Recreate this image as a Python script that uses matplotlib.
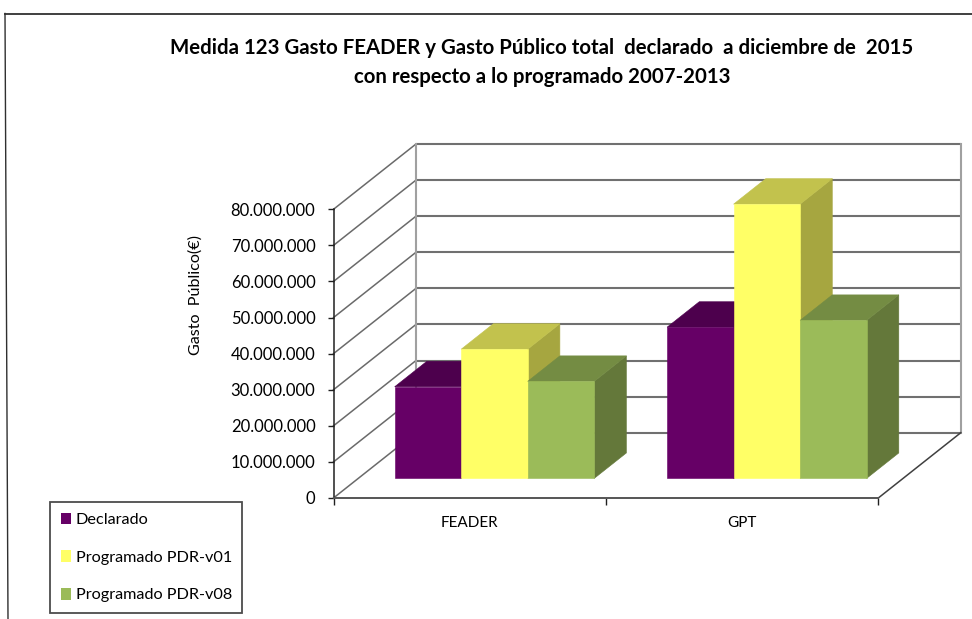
import matplotlib
matplotlib.use("Agg")
import matplotlib.pyplot as plt
from matplotlib.patches import Polygon, Patch
from matplotlib.lines import Line2D

categories = ["FEADER", "GPT"]
series_names = ["Declarado", "Programado PDR-v01", "Programado PDR-v08"]
declarado = [25400000, 41900000]
programado_v01 = [35800000, 76000000]
programado_v08 = [26900000, 43800000]
y_ticks = [0, 10000000, 20000000, 30000000, 40000000, 50000000, 60000000, 70000000, 80000000]
y_label = "Gasto  Público(€)"
title = ("Medida 123 Gasto FEADER y Gasto Público total  declarado  a diciembre de  2015\n"
         "con respecto a lo programado 2007-2013")

W, H = 972, 619
plt.rcParams["font.family"] = ["Lato", "DejaVu Sans"]
fig = plt.figure(figsize=(W / 100, H / 100), dpi=100, facecolor="white")

# front plane of the 3D box, in pixels
L, R, T, B = 333.5, 878.3, 209.3, 498.0
ax = fig.add_axes([L / W, 1 - B / H, (R - L) / W, (B - T) / H])
ax.set_xlim(0, 2)
ax.set_ylim(0, 80000000)
ax.patch.set_visible(False)

# depth vector: one unit of depth in data units
DX = 82.5 / ((R - L) / 2)
DY = 65.3 / ((B - T) / 80000000)


def prj(x, v, d=0.0):
    return (x + d * DX, v + d * DY)


GRID = "#707070"
# back wall, side wall
for v in y_ticks:
    ax.plot(*zip(prj(0, v, 1), prj(2, v, 1)), color=GRID, lw=1.5, zorder=1, clip_on=False,
            solid_capstyle="butt")
    ax.plot(*zip(prj(0, v, 0), prj(0, v, 1)), color="#6a6a6a", lw=1.1, zorder=1, clip_on=False)
for x in (0, 2):
    ax.plot(*zip(prj(x, 0, 1), prj(x, 80000000, 1)), color="#a0a0a0", lw=1.5, zorder=1, clip_on=False)
ax.plot(*zip(prj(2, 0, 0), prj(2, 0, 1)), color="#404040", lw=1.1, zorder=1, clip_on=False)

# bars
bar_w = 0.2442
d0, d1 = 0.30, 0.69
series = [declarado, programado_v01, programado_v08]
front = ["#660066", "#FFFF66", "#9BBB59"]
topc = ["#4D004D", "#C2C24D", "#748C43"]
sidec = ["#4D004D", "#A6A640", "#64783A"]
z = 3
for c in range(len(categories)):
    for s, vals in enumerate(series):
        v = vals[c]
        x0 = c + 0.5 + (s - 1.5) * bar_w
        x1 = x0 + bar_w
        faces = [
            ([prj(x1, 0, d0), prj(x1, 0, d1), prj(x1, v, d1), prj(x1, v, d0)], sidec[s]),
            ([prj(x0, v, d0), prj(x1, v, d0), prj(x1, v, d1), prj(x0, v, d1)], topc[s]),
            ([prj(x0, 0, d0), prj(x1, 0, d0), prj(x1, v, d0), prj(x0, v, d0)], front[s]),
        ]
        for pts, col in faces:
            ax.add_patch(Polygon(pts, closed=True, facecolor=col, edgecolor=col, lw=0.4,
                                 zorder=z, clip_on=False))
            z += 1

# axes
for sp in ("top", "right"):
    ax.spines[sp].set_visible(False)
ax.spines["left"].set_color("#202020")
ax.spines["left"].set_linewidth(1.1)
ax.spines["bottom"].set_color("#555555")
ax.spines["bottom"].set_linewidth(1.4)
ax.set_yticks(y_ticks)
ax.set_yticklabels([f"{v:,}".replace(",", ".") for v in y_ticks])
ax.set_xticks([0, 1, 2])
ax.set_xticklabels([])
ax.set_xticks([0.5, 1.5], minor=True)
ax.set_xticklabels(categories, minor=True)
ax.tick_params(axis="x", which="major", length=5, width=1, color="#202020")
ax.tick_params(axis="x", which="minor", length=0, pad=13, labelsize=11, colors="black")
ax.tick_params(axis="y", length=4, width=1, color="#202020", pad=9, labelsize=12)

fig.text(196 / W, 1 - 295 / H, y_label, rotation=90, ha="center", va="center", fontsize=11.6)
fig.text(542 / W, 1 - 62.5 / H, title, ha="center", va="center", fontsize=14.7,
         fontweight="bold", linespacing=1.6, color="black")

# outer frame
fig.add_artist(Line2D([5 / W, 1], [1 - 13.5 / H] * 2, color="#303030", lw=1.3))
fig.add_artist(Line2D([5 / W, 8 / W], [1 - 13.5 / H, 0], color="#303030", lw=1.0))

# legend
handles = [Patch(facecolor=c, edgecolor="none") for c in front]
leg = fig.legend(handles, series_names, loc="lower left",
                 bbox_to_anchor=(50 / W, 1 - 613 / H), borderaxespad=0,
                 frameon=True, fancybox=False, edgecolor="#202020", facecolor="white",
                 fontsize=11.7, handlelength=0.62, handleheight=0.72, handletextpad=0.3,
                 labelspacing=1.42, borderpad=0.65)
leg.get_frame().set_linewidth(1.3)
leg.set_zorder(20)

fig.savefig("out.png", dpi=100)
